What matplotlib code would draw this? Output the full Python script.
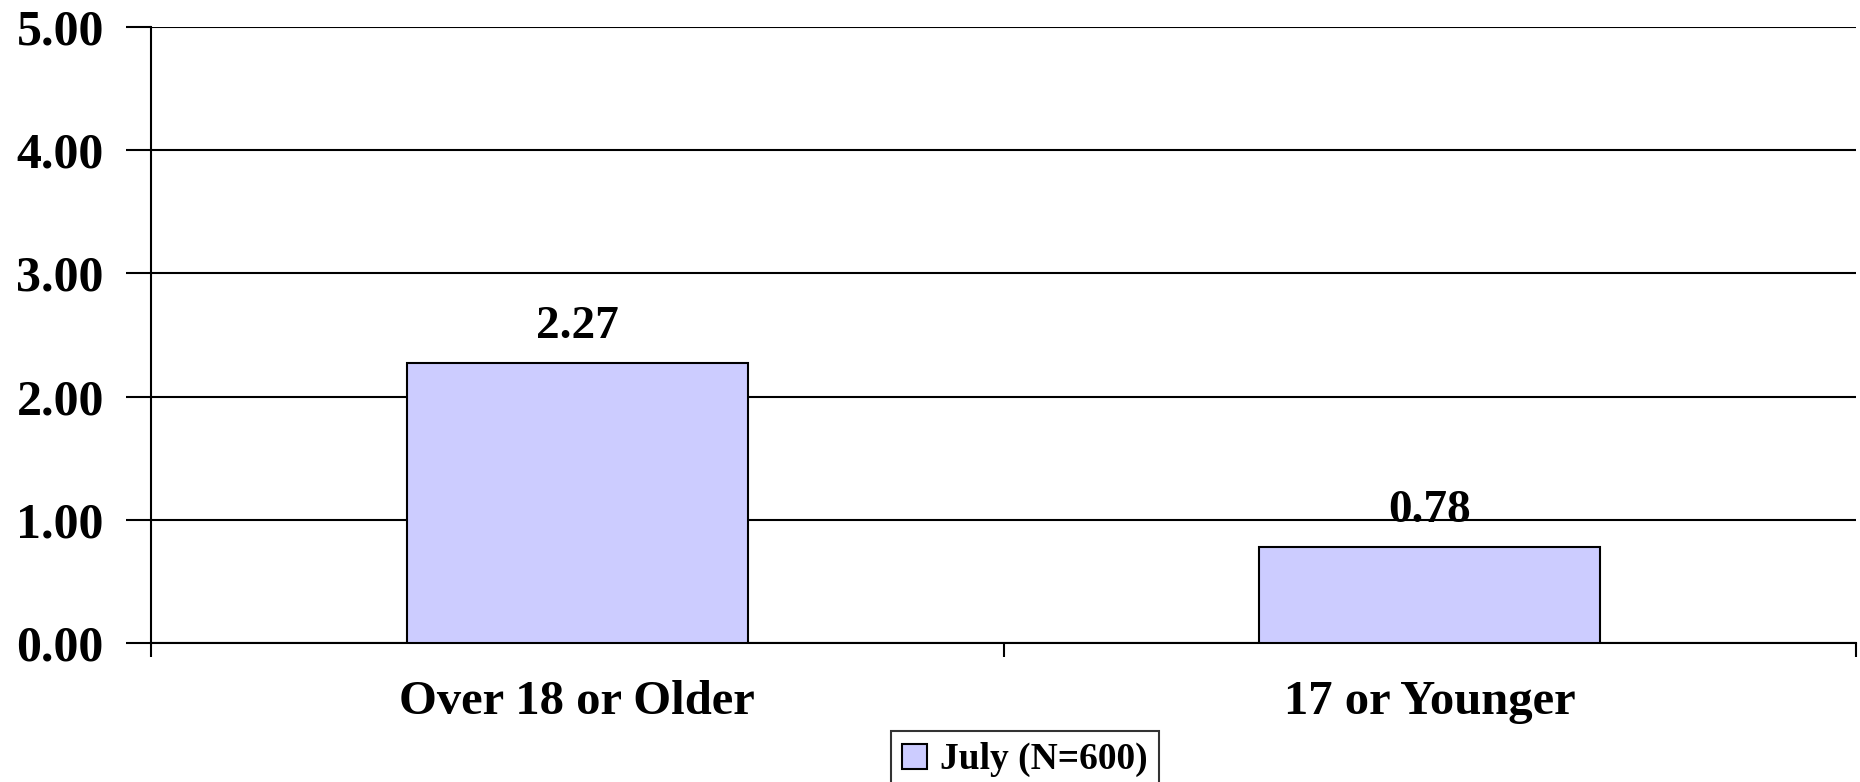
import matplotlib
matplotlib.use("Agg")
import matplotlib.pyplot as plt

categories = ["Over 18 or Older", "17 or Younger"]
values = [2.27, 0.78]
series_name = "July (N=600)"
yticks = [0, 1, 2, 3, 4, 5]

plt.rcParams["font.family"] = ["Liberation Serif", "DejaVu Serif"]
plt.rcParams["font.weight"] = "bold"

fig = plt.figure(figsize=(18.6, 7.82), dpi=100, facecolor="white")
ax = fig.add_axes([151 / 1860, 139 / 782, 1705 / 1860, 616 / 782])

x = list(range(len(categories)))
bars = ax.bar(x, values, width=0.4, color="#ccccff", edgecolor="black",
              linewidth=1.5, label=series_name, zorder=3)
for b, v in zip(bars, values):
    ax.annotate(f"{v:.2f}", (b.get_x() + b.get_width() / 2, v),
                xytext=(0, 18), textcoords="offset points",
                ha="center", va="baseline", fontsize=34, fontweight="bold",
                zorder=4)

ax.set_xlim(-0.5, len(categories) - 0.5)
ax.set_ylim(0, 5)
ax.set_yticks(yticks)
ax.set_yticklabels([f"{t:.2f}" for t in yticks], fontsize=36, fontweight="bold")
ax.yaxis.grid(True, color="black", linewidth=1.5, zorder=0)
ax.set_axisbelow(True)

ax.set_xticks([i - 0.5 for i in range(len(categories) + 1)])
ax.set_xticklabels([])
ax.set_xticks(x, minor=True)
ax.set_xticklabels(categories, minor=True, fontsize=35, fontweight="bold")
ax.tick_params(axis="x", which="minor", length=0, pad=27)
ax.tick_params(axis="x", which="major", length=10, width=1.5, direction="out")
ax.tick_params(axis="y", length=18, width=1.5, direction="out", pad=16)

for side in ("top", "right"):
    ax.spines[side].set_visible(False)
for side in ("left", "bottom"):
    ax.spines[side].set_linewidth(1.5)

leg = fig.legend(loc="upper center", bbox_to_anchor=(1025 / 1860, 1 - 731 / 782),
                 frameon=True, fancybox=False, edgecolor="black",
                 prop={"size": 27, "weight": "bold"},
                 handlelength=0.65, handleheight=0.65, handletextpad=0.35,
                 borderpad=0.3, borderaxespad=0)
leg.get_frame().set_linewidth(1.5)

fig.savefig("out.png", dpi=100, facecolor="white")
